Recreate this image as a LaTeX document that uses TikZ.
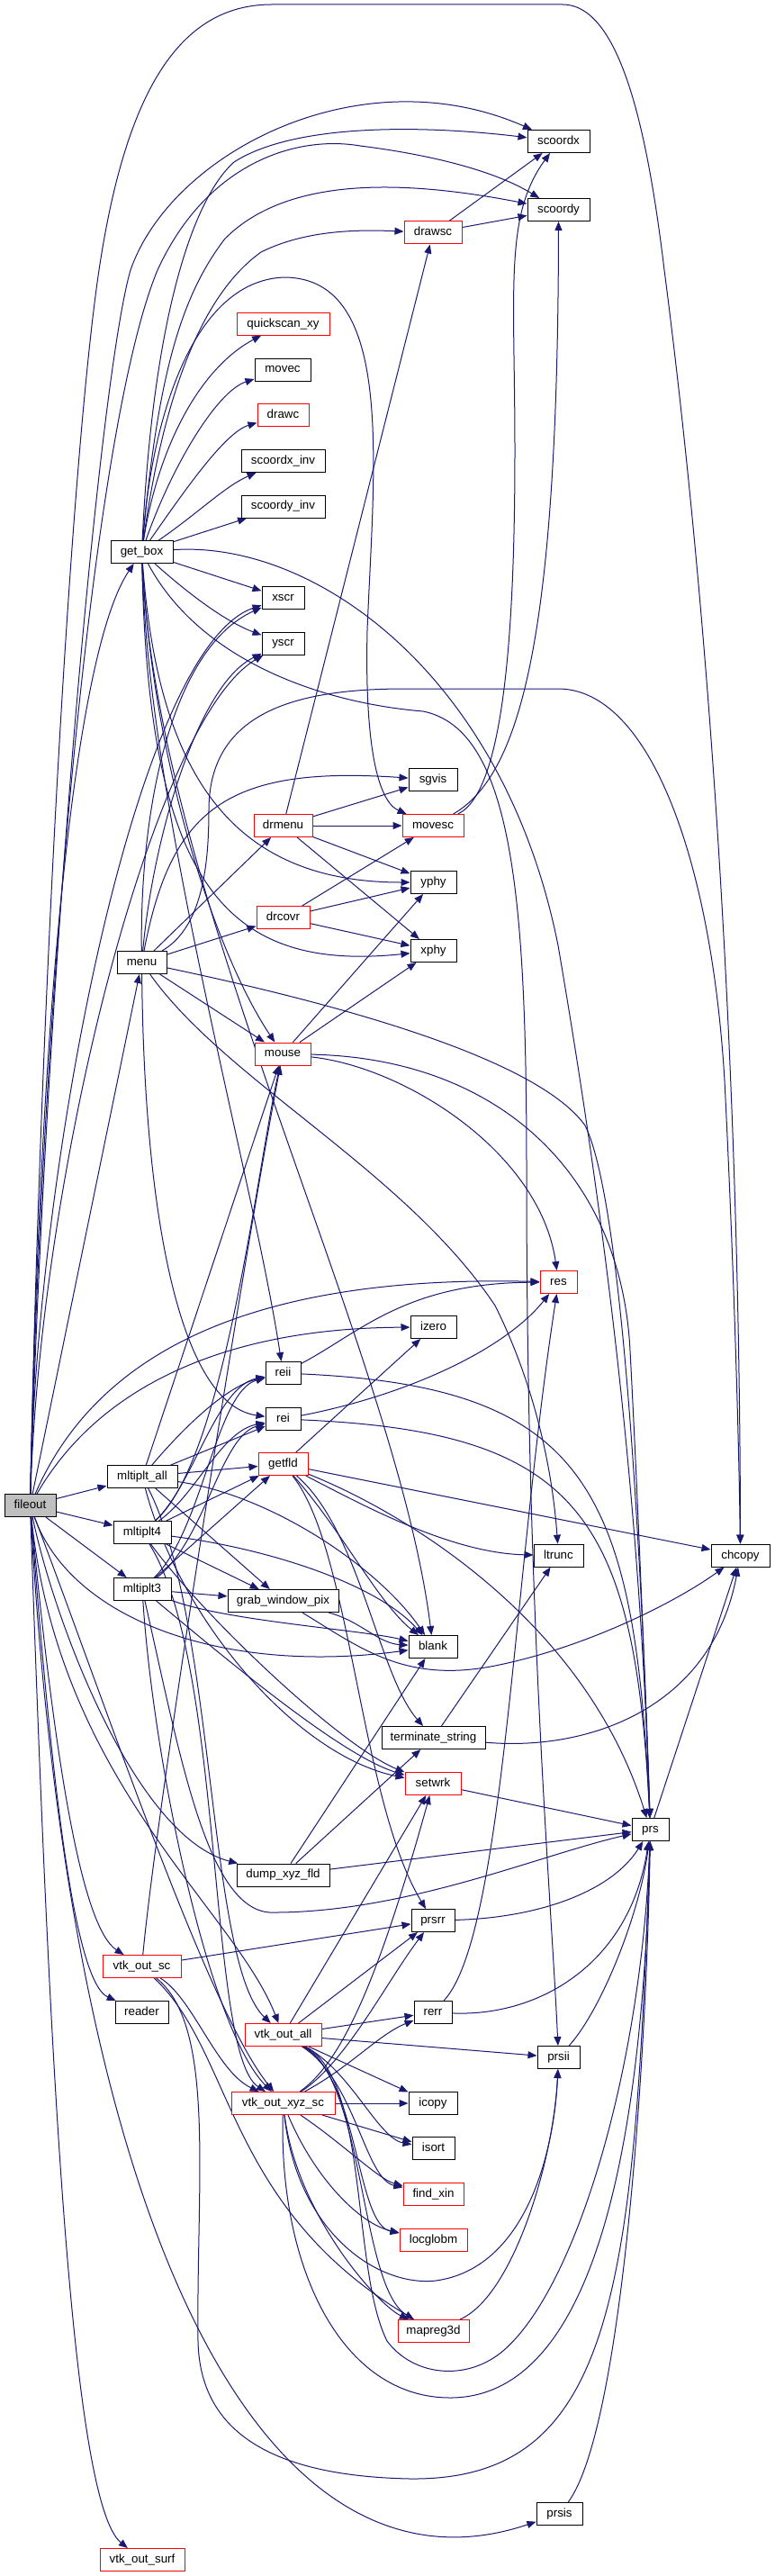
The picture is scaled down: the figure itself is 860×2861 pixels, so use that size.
\documentclass[tikz,border=0pt]{standalone}
\usepackage{fontspec}
\setmainfont{Liberation Sans}
\usetikzlibrary{arrows.meta}
\definecolor{edgec}{RGB}{25,25,112}
\definecolor{nodered}{RGB}{255,0,0}
\definecolor{rootgray}{RGB}{191,191,191}
\pgfdeclarelayer{bg}
\pgfsetlayers{bg,main}
\begin{document}
\begin{tikzpicture}[x=0.75pt,y=-0.75pt,
 nb/.style={draw=black, fill=white, line width=0.75pt, rectangle, inner sep=0pt, minimum height=18.75pt, text height=7.3pt, text depth=2.1pt, font=\fontsize{10pt}{12pt}\selectfont},
 nr/.style={nb, draw=nodered},
 wd/.style={minimum width=#1*0.75pt},
 edg/.style={draw=edgec, line width=0.75pt, -{Triangle[length=7.5pt,width=6pt]}}]
\useasboundingbox (0,0) rectangle (860,2861);
% nodes
\node[nb, fill=rootgray, wd=57] (fileout) at (33.5,1672) {fileout};
\node[nb, wd=69] (getbox) at (157.5,613) {get\_box};
\node[nb, wd=55] (menu) at (157.5,1069) {menu};
\node[nb, wd=78] (mall) at (158,1640) {mltiplt\_all};
\node[nb, wd=64] (m4) at (158,1702) {mltiplt4};
\node[nb, wd=64] (m3) at (158,1765) {mltiplt3};
\node[nr, wd=87] (vsc) at (157.5,2184) {vtk\_out\_sc};
\node[nb, wd=59] (reader) at (157.5,2235) {reader};
\node[nr, wd=94] (vsurf) at (158,2843) {vtk\_out\_surf};
\node[nr, wd=103] (qxy) at (314.5,359.6) {quickscan\_xy};
\node[nb, wd=62] (movec) at (314,410.5) {movec};
\node[nr, wd=57] (drawc) at (314.5,461) {drawc};
\node[nb, wd=93] (sxinv) at (314.5,512) {scoordx\_inv};
\node[nb, wd=93] (syinv) at (314.5,562.5) {scoordy\_inv};
\node[nb, wd=47] (xscr) at (314.5,664) {xscr};
\node[nb, wd=47] (yscr) at (314.5,714.5) {yscr};
\node[nr, wd=65] (drmenu) at (314.5,917) {drmenu};
\node[nr, wd=59] (drcovr) at (314.5,1019) {drcovr};
\node[nr, wd=62] (mouse) at (314,1170.5) {mouse};
\node[nb, wd=39] (reii) at (314.5,1525) {reii};
\node[nb, wd=39] (rei) at (314.5,1576) {rei};
\node[nr, wd=55] (getfld) at (314.5,1626) {getfld};
\node[nb, wd=123] (grab) at (314.5,1778) {grab\_window\_pix};
\node[nb, wd=103] (dump) at (314.5,2082.5) {dump\_xyz\_fld};
\node[nr, wd=85] (vall) at (314.5,2260) {vtk\_out\_all};
\node[nr, wd=115] (vxyz) at (314.5,2336) {vtk\_out\_xyz\_sc};
\node[nr, wd=64] (drawsc) at (481,258.5) {drawsc};
\node[nb, wd=54] (sgvis) at (481,866) {sgvis};
\node[nr, wd=68] (movesc) at (481,917) {movesc};
\node[nb, wd=51] (yphy) at (481.5,980) {yphy};
\node[nb, wd=51] (xphy) at (481.5,1056) {xphy};
\node[nb, wd=51] (izero) at (481.5,1474) {izero};
\node[nb, wd=54] (blank) at (481,1829) {blank};
\node[nb, wd=115] (term) at (481.5,1930) {terminate\_string};
\node[nr, wd=62] (setwrk) at (481,1981) {setwrk};
\node[nb, wd=48] (prsrr) at (481,2133) {prsrr};
\node[nb, wd=42] (rerr) at (481,2235) {rerr};
\node[nb, wd=54] (icopy) at (481,2336) {icopy};
\node[nb, wd=47] (isort) at (481.5,2386) {isort};
\node[nr, wd=67] (findxin) at (481.5,2437) {find\_xin};
\node[nr, wd=75] (locglobm) at (481.5,2488) {locglobm};
\node[nr, wd=79] (mapreg) at (481.5,2589) {mapreg3d};
\node[nb, wd=69] (scx) at (620.5,157) {scoordx};
\node[nb, wd=69] (scy) at (620.5,233) {scoordy};
\node[nr, wd=41] (res) at (620.5,1424) {res};
\node[nb, wd=55] (ltrunc) at (620.5,1727.6) {ltrunc};
\node[nb, wd=47] (prsii) at (620.5,2285) {prsii};
\node[nb, wd=51] (prsis) at (621.5,2792) {prsis};
\node[nb, wd=41] (prs) at (722.5,2032) {prs};
\node[nb, wd=65] (chcopy) at (822.5,1727.6) {chcopy};
\begin{pgfonlayer}{bg}
% fileout
\draw[edg] (fileout) .. controls (45,1100) and (85,720) .. (getbox);
\draw[edg] (fileout) -- (menu);
\draw[edg] (fileout) -- (mall);
\draw[edg] (fileout) -- (m4);
\draw[edg] (fileout) -- (m3);
\draw[edg] (fileout) .. controls (60,1800) and (150,2040) .. (dump);
\draw[edg] (fileout) .. controls (60,1950) and (90,2140) .. (vsc);
\draw[edg] (fileout) .. controls (55,1950) and (80,2200) .. (reader);
\draw[edg] (fileout) .. controls (65,1980) and (260,2120) .. (vall);
\draw[edg] (fileout) .. controls (120,1900) and (230,2230) .. (vxyz);
\draw[edg] (fileout) .. controls (55,2300) and (80,2780) .. (vsurf);
\draw[edg] (fileout) .. controls (80,2500) and (300,2900) .. (prsis);
\draw[edg] (fileout) .. controls (50,1100) and (110,420) .. (145,300) .. controls (190,170) and (400,60) .. (scx);
\draw[edg] (fileout) .. controls (45,1150) and (100,480) .. (175,300) .. controls (230,180) and (330,150) .. (400,162) .. controls (480,172) and (550,190) .. (scy);
\draw[edg] (fileout) .. controls (40,1300) and (150,720) .. (xscr);
\draw[edg] (fileout) .. controls (45,1300) and (170,800) .. (yscr);
\draw[edg] (fileout) .. controls (100,1520) and (250,1415) .. (res);
\draw[edg] (fileout) .. controls (110,1540) and (250,1475) .. (izero);
\draw[edg] (fileout) .. controls (80,1800) and (250,1860) .. (blank);
\draw[edg] (fileout) .. controls (45,1100) and (80,500) .. (110,300) .. controls (140,100) and (200,5) .. (302,5) -- (625,5) .. controls (690,5) and (720,150) .. (738,300) .. controls (790,700) and (822,1200) .. (chcopy);
% get_box
\draw[edg] (getbox) .. controls (175,500) and (220,410) .. (qxy);
\draw[edg] (getbox) .. controls (190,520) and (240,435) .. (movec);
\draw[edg] (getbox) .. controls (205,545) and (250,480) .. (drawc);
\draw[edg] (getbox) .. controls (220,570) and (250,540) .. (sxinv);
\draw[edg] (getbox) -- (syinv);
\draw[edg] (getbox) -- (xscr);
\draw[edg] (getbox) .. controls (210,660) and (250,690) .. (yscr);
\draw[edg] (getbox) .. controls (170,350) and (215,220) .. (260,180) .. controls (330,135) and (480,140) .. (scx);
\draw[edg] (getbox) .. controls (175,420) and (200,330) .. (250,265) .. controls (320,195) and (450,200) .. (scy);
\draw[edg] (getbox) .. controls (180,450) and (220,330) .. (290,280) .. controls (340,255) and (400,255) .. (drawsc);
\draw[edg] (getbox) .. controls (170,450) and (220,310) .. (317,308) .. controls (440,310) and (415,520) .. (408,700) .. controls (405,830) and (420,890) .. (movesc);
\draw[edg] (getbox) .. controls (170,850) and (240,1060) .. (mouse);
\draw[edg] (getbox) .. controls (165,900) and (280,1300) .. (reii);
\draw[edg] (getbox) .. controls (175,1000) and (440,1500) .. (blank);
\draw[edg] (getbox) .. controls (175,850) and (250,980) .. (yphy);
\draw[edg] (getbox) .. controls (165,980) and (250,1080) .. (xphy);
\draw[edg] (getbox) .. controls (350,600) and (560,750) .. (620,1050) .. controls (680,1400) and (712,1700) .. (prs);
\draw[edg] (getbox) .. controls (220,730) and (350,780) .. (470,790) .. controls (570,810) and (585,1000) .. (585,1300) .. controls (585,1800) and (612,2100) .. (prsii);
% menu
\draw[edg] (menu) .. controls (155,900) and (190,720) .. (xscr);
\draw[edg] (menu) .. controls (170,930) and (220,760) .. (yscr);
\draw[edg] (menu) .. controls (190,900) and (250,850) .. (sgvis);
\draw[edg] (menu) -- (drmenu);
\draw[edg] (menu) -- (drcovr);
\draw[edg] (menu) -- (mouse);
\draw[edg] (menu) .. controls (225,1030) and (232,960) .. (232,900) .. controls (232,790) and (330,765) .. (450,765) -- (620,765) .. controls (720,765) and (790,950) .. (805,1200) .. controls (815,1400) and (821,1600) .. (chcopy);
\draw[edg] (menu) .. controls (400,1120) and (600,1180) .. (650,1250) .. controls (690,1330) and (712,1700) .. (prs);
\draw[edg] (menu) .. controls (160,1350) and (200,1560) .. (rei);
\draw[edg] (menu) .. controls (250,1200) and (450,1300) .. (550,1450) .. controls (600,1550) and (615,1650) .. (ltrunc);
% drmenu, drcovr, mouse
\draw[edg] (drmenu) -- (drawsc);
\draw[edg] (drmenu) -- (sgvis);
\draw[edg] (drmenu) -- (movesc);
\draw[edg] (drmenu) -- (yphy);
\draw[edg] (drmenu) -- (xphy);
\draw[edg] (drcovr) -- (movesc);
\draw[edg] (drcovr) -- (yphy);
\draw[edg] (drcovr) -- (xphy);
\draw[edg] (mouse) -- (yphy);
\draw[edg] (mouse) -- (xphy);
\draw[edg] (mouse) .. controls (450,1185) and (600,1280) .. (res);
\draw[edg] (mouse) .. controls (550,1175) and (690,1300) .. (700,1500) .. controls (708,1650) and (716,1850) .. (prs);
% mltiplt_all
\draw[edg] (mall) -- (mouse);
\draw[edg] (mall) .. controls (200,1590) and (250,1540) .. (reii);
\draw[edg] (mall) -- (rei);
\draw[edg] (mall) -- (getfld);
\draw[edg] (mall) -- (grab);
\draw[edg] (mall) .. controls (300,1660) and (420,1740) .. (blank);
\draw[edg] (mall) .. controls (200,1800) and (330,1950) .. (setwrk);
\draw[edg] (mall) .. controls (240,1800) and (230,2180) .. (vall);
% mltiplt4
\draw[edg] (m4) .. controls (250,1620) and (285,1300) .. (mouse);
\draw[edg] (m4) .. controls (215,1650) and (240,1540) .. (reii);
\draw[edg] (m4) .. controls (218,1660) and (245,1590) .. (rei);
\draw[edg] (m4) -- (getfld);
\draw[edg] (m4) -- (grab);
\draw[edg] (m4) .. controls (300,1720) and (420,1760) .. (blank);
\draw[edg] (m4) .. controls (230,1800) and (380,1940) .. (setwrk);
\draw[edg] (m4) .. controls (250,1850) and (230,2280) .. (vxyz);
% mltiplt3
\draw[edg] (m3) .. controls (225,1700) and (240,1545) .. (reii);
\draw[edg] (m3) .. controls (228,1710) and (245,1595) .. (rei);
\draw[edg] (m3) -- (getfld);
\draw[edg] (m3) -- (grab);
\draw[edg] (m3) .. controls (250,1800) and (400,1810) .. (blank);
\draw[edg] (m3) .. controls (260,1850) and (380,1950) .. (setwrk);
\draw[edg] (m3) .. controls (170,1950) and (230,2250) .. (vxyz);
\draw[edg] (m3) .. controls (200,1950) and (230,2120) .. (300,2124) .. controls (450,2125) and (600,2060) .. (prs);
% getfld
\draw[edg] (getfld) -- (izero);
\draw[edg] (getfld) .. controls (400,1670) and (500,1725) .. (ltrunc);
\draw[edg] (getfld) -- (chcopy);
\draw[edg] (getfld) .. controls (380,1700) and (420,1780) .. (blank);
\draw[edg] (getfld) .. controls (400,1700) and (420,1860) .. (term);
\draw[edg] (getfld) .. controls (390,1720) and (400,2000) .. (prsrr);
\draw[edg] (getfld) .. controls (450,1680) and (650,1800) .. (prs);
% reii, rei
\draw[edg] (reii) .. controls (400,1480) and (450,1425) .. (res);
\draw[edg] (reii) .. controls (650,1540) and (705,1650) .. (prs);
\draw[edg] (rei) .. controls (450,1550) and (560,1500) .. (res);
\draw[edg] (rei) .. controls (640,1590) and (705,1680) .. (prs);
% grab, term, setwrk, dump
\draw[edg] (grab) .. controls (400,1800) and (420,1825) .. (blank);
\draw[edg] (grab) .. controls (400,1830) and (450,1870) .. (550,1850) .. controls (650,1830) and (750,1780) .. (chcopy);
\draw[edg] (term) -- (ltrunc);
\draw[edg] (term) .. controls (650,1945) and (790,1900) .. (chcopy);
\draw[edg] (setwrk) -- (prs);
\draw[edg] (dump) -- (term);
\draw[edg] (dump) -- (blank);
\draw[edg] (dump) -- (prs);
% vtk_out_sc
\draw[edg] (vsc) -- (prsrr);
\draw[edg] (vsc) .. controls (215,2220) and (240,2300) .. (vxyz);
\draw[edg] (vsc) .. controls (260,2280) and (250,2450) .. (mapreg);
\draw[edg] (vsc) .. controls (240,2250) and (218,2420) .. (220,2600) .. controls (222,2700) and (300,2750) .. (456,2753) .. controls (680,2755) and (705,2550) .. (prs);
\draw[edg] (vsc) .. controls (175,2000) and (270,1400) .. (mouse);
% vtk_out_all
\draw[edg] (vall) -- (setwrk);
\draw[edg] (vall) -- (prsrr);
\draw[edg] (vall) -- (rerr);
\draw[edg] (vall) -- (prsii);
\draw[edg] (vall) -- (icopy);
\draw[edg] (vall) .. controls (390,2300) and (420,2375) .. (isort);
\draw[edg] (vall) .. controls (395,2310) and (405,2420) .. (findxin);
\draw[edg] (vall) .. controls (400,2310) and (395,2470) .. (locglobm);
\draw[edg] (vall) .. controls (405,2310) and (400,2540) .. (mapreg);
\draw[edg] (vall) .. controls (410,2310) and (390,2520) .. (430,2600) .. controls (460,2640) and (520,2645) .. (560,2610) .. controls (640,2540) and (712,2300) .. (prs);
% vtk_out_xyz_sc
\draw[edg] (vxyz) .. controls (380,2290) and (420,2200) .. (setwrk);
\draw[edg] (vxyz) .. controls (385,2290) and (430,2200) .. (prsrr);
\draw[edg] (vxyz) .. controls (390,2295) and (420,2260) .. (rerr);
\draw[edg] (vxyz) -- (icopy);
\draw[edg] (vxyz) -- (isort);
\draw[edg] (vxyz) .. controls (380,2380) and (420,2420) .. (findxin);
\draw[edg] (vxyz) .. controls (350,2420) and (400,2470) .. (locglobm);
\draw[edg] (vxyz) .. controls (330,2460) and (420,2560) .. (mapreg);
\draw[edg] (vxyz) .. controls (330,2480) and (420,2540) .. (484,2533) .. controls (580,2520) and (615,2400) .. (prsii);
\draw[edg] (vxyz) .. controls (310,2520) and (380,2663) .. (500,2663) .. controls (640,2663) and (712,2450) .. (prs);
% lower level
\draw[edg] (prsrr) .. controls (600,2130) and (680,2100) .. (prs);
\draw[edg] (rerr) .. controls (600,2240) and (700,2180) .. (prs);
\draw[edg] (rerr) .. controls (560,2150) and (570,1750) .. (res);
\draw[edg] (prsii) .. controls (670,2230) and (712,2120) .. (prs);
\draw[edg] (prsis) .. controls (690,2700) and (718,2300) .. (prs);
\draw[edg] (mapreg) .. controls (570,2550) and (615,2400) .. (prsii);
\draw[edg] (prs) -- (chcopy);
\draw[edg] (drawsc) -- (scx);
\draw[edg] (drawsc) -- (scy);
\draw[edg] (movesc) .. controls (560,880) and (572,700) .. (572,500) .. controls (572,320) and (560,240) .. (scx);
\draw[edg] (movesc) .. controls (580,860) and (620,700) .. (scy);
\end{pgfonlayer}
\end{tikzpicture}
\end{document}
